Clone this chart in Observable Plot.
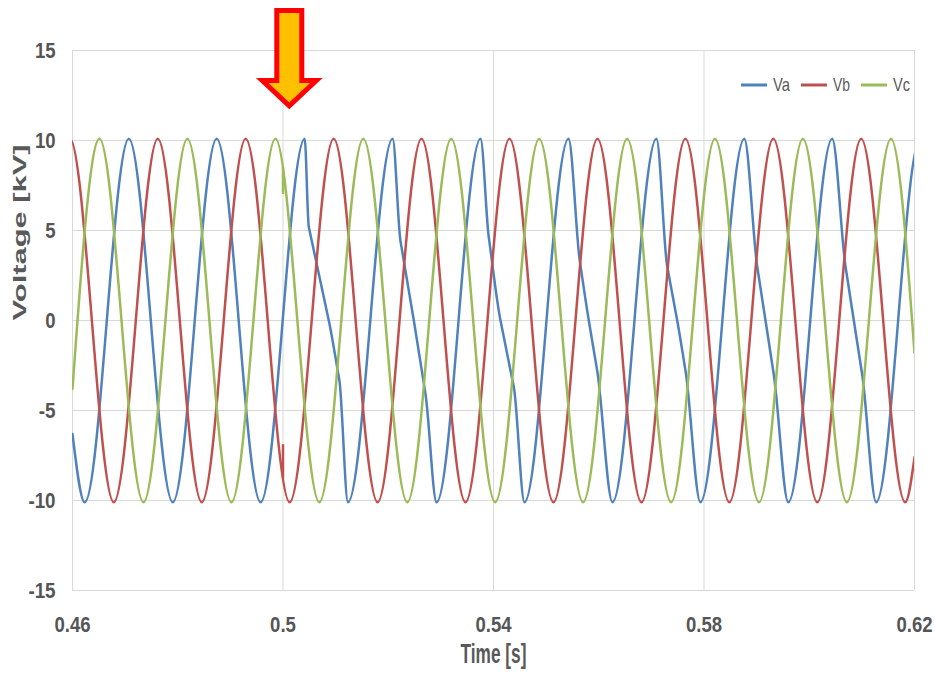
<!DOCTYPE html>
<html>
<head>
<meta charset="utf-8">
<script src="https://cdn.jsdelivr.net/npm/d3@7"></script>
<script src="https://cdn.jsdelivr.net/npm/@observablehq/plot@0.6"></script>
<style>
  body { margin: 0; background: #fff; }
  #chart { position: relative; width: 935px; height: 674px; }
  #legend { position: absolute; left: 735px; top: 70px; }
</style>
</head>
<body>
<div id="chart"><svg id="legend" width="190" height="30"></svg></div>
<script>
// ---- data ----
const seriesNames = ["Va", "Vb", "Vc"];
const seriesColors = ["#4F81BD", "#C0504D", "#9BBB59"];
const xTicks = [0.46, 0.5, 0.54, 0.58, 0.62];
const yTicks = [-15, -10, -5, 0, 5, 10, 15];

// [time (s), voltage (kV)] : extrema, visible kinks and zero crossings
const Va = [
  [0.46000, -6.3], [0.46234, -10.1], [0.47070, 10.1], [0.47906, -10.1],
  [0.48740, 10.1], [0.49576, -10.1], [0.50412, 10.1],
  [0.50490, 5.2], [0.50870, 0.0], [0.51070, -3.3], [0.51235, -10.1],
  [0.52083, 10.1], [0.52233, 4.4], [0.52486, 0.0], [0.52708, -4.1], [0.52919, -10.1],
  [0.53753, 10.1], [0.53911, 4.6], [0.54133, 0.0], [0.54386, -3.7], [0.54589, -10.1],
  [0.55425, 10.1], [0.55640, 3.3], [0.55811, 0.0], [0.55971, -2.8], [0.56261, -10.1],
  [0.57096, 10.1], [0.57301, 3.0], [0.57491, 0.0], [0.57649, -2.8], [0.57932, -10.1],
  [0.58766, 10.1], [0.59011, 3.0], [0.59169, 0.0], [0.59326, -3.0], [0.59602, -10.1],
  [0.60436, 10.1], [0.60689, 3.0], [0.60847, 0.0], [0.61006, -3.0], [0.61272, -10.1],
  [0.62106, 10.1]
];
const Vb = [
  [0.45951, 10.1], [0.46785, -10.1], [0.47621, 10.1], [0.48457, -10.1],
  [0.49291, 10.1], [0.50127, -10.1], [0.50963, 10.1], [0.51798, -10.1],
  [0.52632, 10.1], [0.53468, -10.1], [0.54304, 10.1], [0.55140, -10.1],
  [0.55976, 10.1], [0.56812, -10.1], [0.57647, 10.1], [0.58481, -10.1],
  [0.59317, 10.1], [0.60153, -10.1], [0.60987, 10.1], [0.61823, -10.1],
  [0.62000, -7.6]
];
const Vc = [
  [0.46000, -3.8], [0.46513, 10.1], [0.47349, -10.1], [0.48183, 10.1],
  [0.49020, -10.1], [0.49856, 10.1], [0.50690, -10.1], [0.51526, 10.1],
  [0.52362, -10.1], [0.53196, 10.1], [0.54032, -10.1], [0.54868, 10.1],
  [0.55703, -10.1], [0.56539, 10.1], [0.57375, -10.1], [0.58209, 10.1],
  [0.59045, -10.1], [0.59879, 10.1], [0.60715, -10.1], [0.61552, 10.1],
  [0.62000, -1.8]
];
// short transients at the switching instant
const spikeSeries = ["Vb", "Vc"];
const spikeTime = [0.5, 0.5];
const spikeFrom = [-8.8, 8.5];
const spikeTo = [-6.9, 7.0];
// annotation arrow (time; top, head base, tip in kV)
const arrowAt = [0.50129];
const arrowLevels = [17.2, 13.3, 11.9];

// ---- build tables ----
const seriesData = { Va, Vb, Vc };
const lineData = seriesNames.flatMap(s => seriesData[s].map(([t, v]) => ({ series: s, t, v })));
const spikes = spikeSeries.map((s, i) => ({ series: s, t: spikeTime[i], from: spikeFrom[i], to: spikeTo[i] }));

const FONT = `"Liberation Sans", Arial, sans-serif`;
const fmt = d => String(+d.toFixed(2));
// narrow (Calibri-like) advance widths, px at 22px bold
const narrowWidth = s => [...s].reduce((w, c) => w + (c === "." ? 5.2 : c === "-" ? 6.5 : 10.3), 0);

// smooth curve through the read points: flat at extrema, straight runs kept straight
function waveCurve(context) {
  let xs, ys;
  return {
    areaStart() {}, areaEnd() {},
    lineStart() { xs = []; ys = []; },
    point(x, y) { xs.push(+x); ys.push(+y); },
    lineEnd() {
      const n = xs.length;
      if (!n) return;
      context.moveTo(xs[0], ys[0]);
      if (n === 1) return;
      if (n === 2) { context.lineTo(xs[1], ys[1]); return; }
      const s = [];
      for (let i = 0; i < n - 1; i++) s.push((ys[i + 1] - ys[i]) / (xs[i + 1] - xs[i]));
      const yMin = Math.min(...ys), yMax = Math.max(...ys);
      const isExt = y => Math.abs(y - yMin) < 0.5 || Math.abs(y - yMax) < 0.5;
      const m = new Array(n);
      for (let i = 1; i < n - 1; i++) {
        m[i] = s[i - 1] * s[i] <= 0 ? 0 : (Math.abs(s[i - 1]) < Math.abs(s[i]) ? s[i - 1] : s[i]);
      }
      m[0] = isExt(ys[0]) ? 0 : (3 * s[0] - m[1]) / 2;
      m[n - 1] = isExt(ys[n - 1]) ? 0 : (3 * s[n - 2] - m[n - 2]) / 2;
      for (let i = 0; i < n - 1; i++) {
        const h = (xs[i + 1] - xs[i]) / 3;
        context.bezierCurveTo(xs[i] + h, ys[i] + m[i] * h, xs[i + 1] - h, ys[i + 1] - m[i + 1] * h, xs[i + 1], ys[i + 1]);
      }
    }
  };
}

function arrowMark(index, scales) {
  const x = scales.x(arrowAt[0]);
  const yTop = scales.y(arrowLevels[0]);
  const yBase = scales.y(arrowLevels[1]);
  const yTip = scales.y(arrowLevels[2]);
  const sh = 12.5, hh = 27;
  const d = `M${x - sh},${yTop}H${x + sh}V${yBase}H${x + hh}L${x},${yTip}L${x - hh},${yBase}H${x - sh}Z`;
  return d3.create("svg:path")
    .attr("d", d)
    .attr("fill", "#FFC000")
    .attr("stroke", "#FF0000")
    .attr("stroke-width", 5)
    .attr("stroke-miterlimit", 10)
    .node();
}

const chart = Plot.plot({
  width: 935,
  height: 674,
  marginLeft: 72,
  marginRight: 21,
  marginTop: 50,
  marginBottom: 84,
  style: { fontFamily: FONT, color: "#555555", background: "#fff", overflow: "visible" },
  x: { domain: [0.46, 0.62] },
  y: { domain: [-15, 15] },
  color: { domain: seriesNames, range: seriesColors },
  marks: [
    Plot.gridX(xTicks, { stroke: "#d9d9d9", strokeOpacity: 1, strokeWidth: 1 }),
    Plot.gridY(yTicks, { stroke: "#d9d9d9", strokeOpacity: 1, strokeWidth: 1 }),
    Plot.axisX(xTicks, { tickSize: 0, tickPadding: 26, fontSize: 22, fontWeight: "bold", tickFormat: fmt, label: null }),
    Plot.axisY(yTicks, { tickSize: 0, tickPadding: 17, fontSize: 22, fontWeight: "bold", tickFormat: fmt, label: null }),
    Plot.line(lineData, { x: "t", y: "v", z: "series", stroke: "series", curve: waveCurve, strokeWidth: 2.5, clip: true }),
    Plot.ruleX(spikes, { x: "t", y1: "from", y2: "to", stroke: "series", strokeWidth: 2.5 }),
    Plot.text(["Time [s]"], { frameAnchor: "bottom", dy: 72, fontSize: 28, fontWeight: "bold", fill: "#595959" }),
    Plot.text(["Voltage [kV]"], { frameAnchor: "left", dx: -53, rotate: -90, fontSize: 19, fontWeight: "bold", fill: "#595959" }),
    arrowMark
  ]
});

// condensed (Calibri-like) look of the texts
const sel = d3.select(chart);
sel.selectAll('g[aria-label="x-axis tick label"] text, g[aria-label="y-axis tick label"] text').each(function () {
  d3.select(this).attr("textLength", narrowWidth(this.textContent)).attr("lengthAdjust", "spacingAndGlyphs");
});
sel.selectAll("text").each(function () {
  const t = this.textContent;
  if (t === "Time [s]") d3.select(this).attr("textLength", 66).attr("lengthAdjust", "spacingAndGlyphs");
  if (t === "Voltage [kV]") d3.select(this).attr("textLength", 176).attr("lengthAdjust", "spacingAndGlyphs");
});

document.getElementById("chart").prepend(chart);

// legend (line swatches)
const legend = d3.select("#legend");
seriesNames.forEach((s, i) => {
  const x0 = 6 + i * 60;
  legend.append("line").attr("x1", x0).attr("x2", x0 + 26).attr("y1", 15).attr("y2", 15)
    .attr("stroke", seriesColors[i]).attr("stroke-width", 3);
  legend.append("text").attr("x", x0 + 32).attr("y", 21).text(s)
    .attr("font-family", FONT).attr("font-size", 19).attr("fill", "#595959")
    .attr("textLength", 17).attr("lengthAdjust", "spacingAndGlyphs");
});
</script>
</body>
</html>
